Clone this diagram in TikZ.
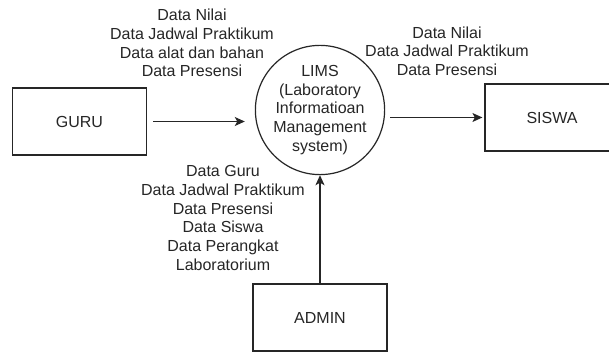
\documentclass[tikz,border=0pt]{standalone}
\usepackage{fontspec}
\setmainfont{Liberation Sans}
\usetikzlibrary{arrows.meta}
\tikzset{
  entity/.style={draw=black!85, line width=1.2pt, minimum width=134pt, minimum height=67pt, inner sep=0pt},
  process/.style={draw=black!85, line width=1.2pt, circle, minimum size=122pt, inner sep=0pt, align=center},
  flowlabel/.style={align=center, inner sep=0pt},
  flow/.style={draw=black!85, line width=1.1pt, -{Stealth[length=10pt,width=9pt,inset=2.5pt]}},
}
\begin{document}
\begin{tikzpicture}[x=1pt, y=-1pt, font=\fontsize{16}{18.7}\selectfont, text=black!85]
  \useasboundingbox (0,0) rectangle (609,352);
  \clip (0,0) rectangle (609,352);
  \fill[white] (0,0) rectangle (609,352);

  % external entities and the central process
  \node[entity] (guru)  at (79.5,121.5) {GURU};
  \node[entity] (siswa) at (552,117.5)  {SISWA};
  \node[entity] (admin) at (320,317.5)  {ADMIN};
  \node[process] (lims) at (320,110) {LIMS\\(Laboratory\\Informatioan\\Management\\system)};

  % data flows
  \draw[flow, shorten <=6pt, shorten >=10pt] (guru.east) -- (guru.east -| lims.west);
  \draw[flow, shorten <=5pt, shorten >=2pt] (lims.east |- siswa.west) -- (siswa.west);
  \draw[flow] (admin.north) -- (lims.south);

  % flow labels
  \node[flowlabel] (lguru) at (192,43) {Data Nilai\\Data Jadwal Praktikum\\Data alat dan bahan\\Data Presensi};
  \node[flowlabel] (lsiswa) at (447,51) {Data Nilai\\Data Jadwal Praktikum\\Data Presensi};
  \node[flowlabel] (ladmin) at (223,218) {Data Guru\\Data Jadwal Praktikum\\Data Presensi\\Data Siswa\\Data Perangkat\\Laboratorium};
\end{tikzpicture}
\end{document}
